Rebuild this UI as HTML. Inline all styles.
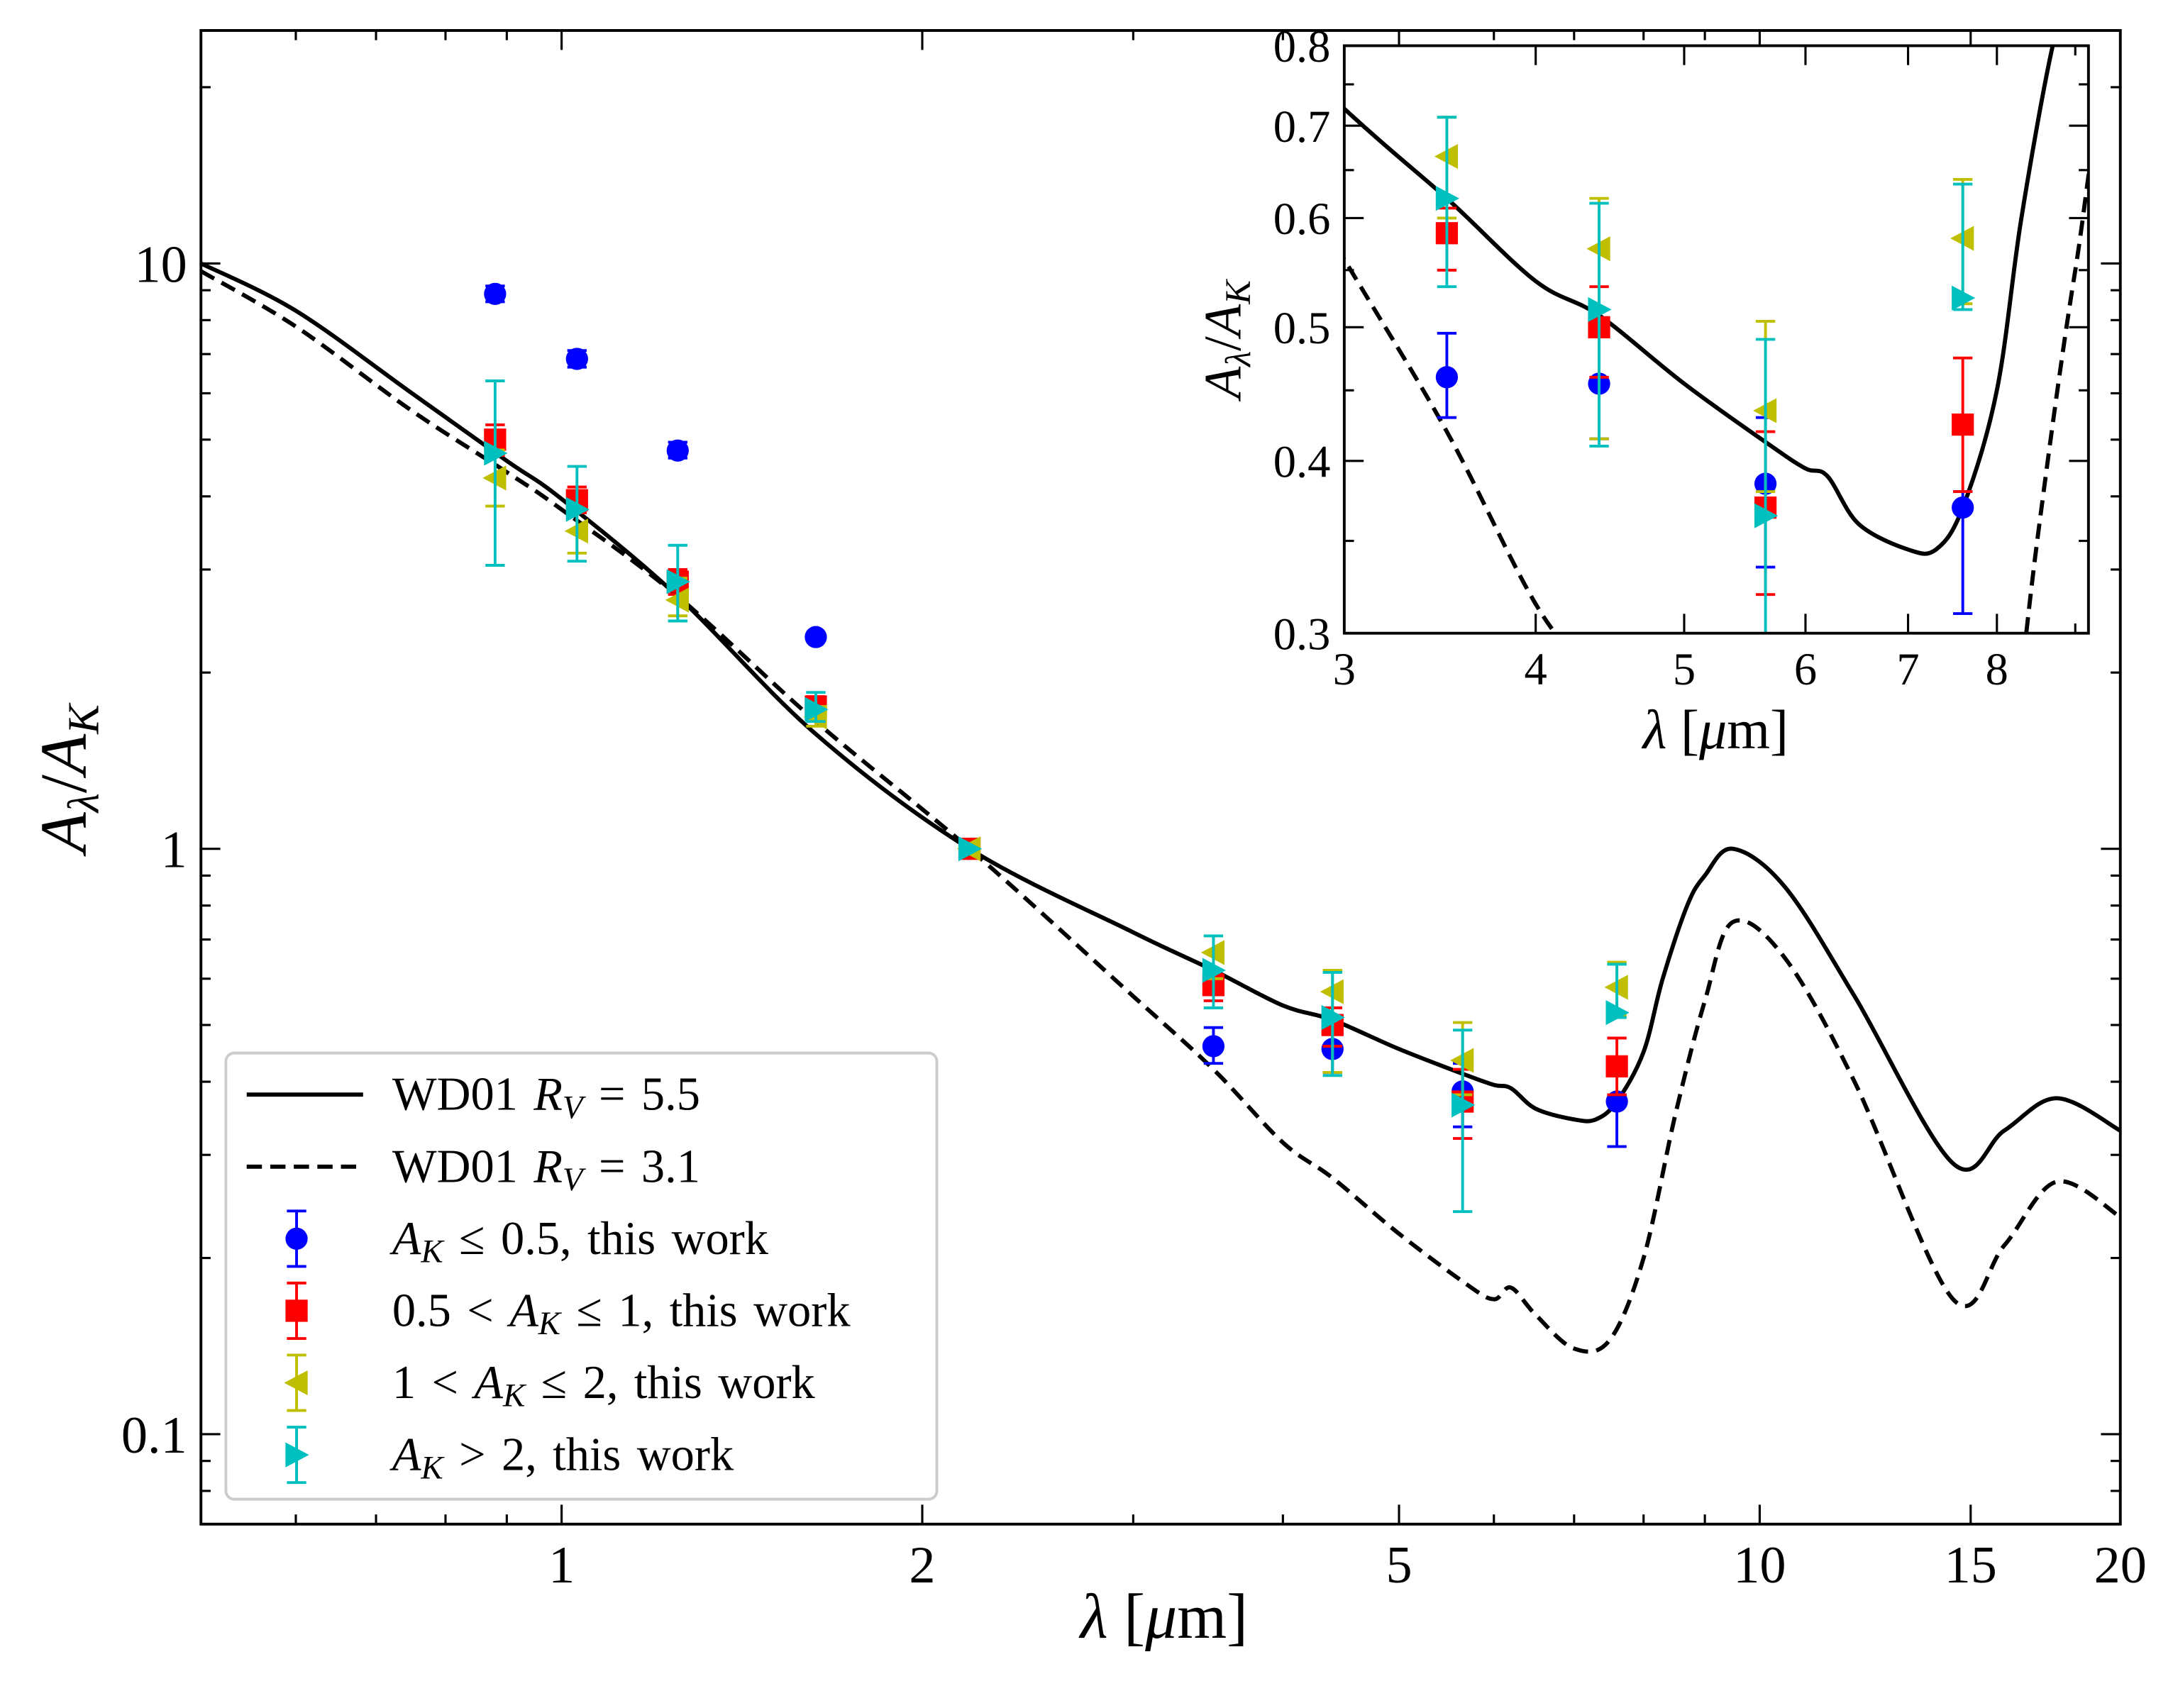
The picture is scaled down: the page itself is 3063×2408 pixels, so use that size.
<!DOCTYPE html>
<html><head><meta charset="utf-8"><style>body{margin:0;background:#fff}svg{display:block}text{font-family:"Liberation Serif","DejaVu Serif",serif}</style></head>
<body>
<svg id="chart" width="3063" height="2408" viewBox="0 0 1568 1232.7" xmlns="http://www.w3.org/2000/svg">
<defs>
<clipPath id="mainClip"><rect x="145" y="22" width="1385" height="1078"/></clipPath>
<clipPath id="insetClip"><rect x="970" y="33" width="537" height="424"/></clipPath>
</defs>
<rect width="1568" height="1233" fill="#fff"/>
<g id="main"></g>
<g id="inset"></g>
<g id="legend"></g>
</svg>
<script>
const NS="http://www.w3.org/2000/svg";
// ---- data ----
const wdLam55=[0.5,0.6,0.75,0.9,1.0,1.25,1.63,2.19,3.0,3.5,4.0,4.4,5.0,5.7,6.0,6.2,6.5,7.0,7.3,7.6,8.0,8.3,8.7,9.0,9.5,10.5,12,14.5,16,17.7,20];
const wdVal55=[10,8.3,6.0,4.6,3.96,2.7,1.57,1.0,0.72,0.62,0.54,0.51,0.455,0.41,0.395,0.39,0.36,0.345,0.345,0.37,0.45,0.6,0.8,0.9,1.0,0.86,0.56,0.29,0.33,0.375,0.33];
const wdLam31=[0.5,0.6,0.75,0.9,1.0,1.25,1.63,2.19,3.0,3.5,4.0,4.4,5.0,5.7,6.0,6.2,6.5,7.0,7.5,8.0,8.5,9.0,9.5,10.5,12,14.5,16,17.7,20];
const wdVal31=[9.7,7.8,5.6,4.4,3.8,2.7,1.65,1.0,0.56,0.42,0.315,0.274,0.22,0.18,0.17,0.178,0.16,0.14,0.145,0.2,0.35,0.55,0.75,0.65,0.4,0.17,0.21,0.27,0.235];
const ptLam=[0.88,1.03,1.25,1.63,2.19,3.5,4.4,5.65,7.6];
const blueVal=[8.87,6.87,4.79,2.30,1.0,0.46,0.455,0.385,0.37];
const blueLo=[8.6,6.65,4.65,2.27,1.0,0.43,0.415,0.335,0.31];
const blueHi=[9.15,7.1,4.95,2.33,1.0,0.495,0.5,0.43,0.38];
const redVal=[5.0,3.94,2.86,1.75,1.0,0.585,0.50,0.37,0.425];
const redLo=[4.7,3.75,2.72,1.68,1.0,0.55,0.46,0.32,0.38];
const redHi=[5.3,4.15,3.0,1.82,1.0,0.61,0.535,0.42,0.475];
const yelVal=[4.3,3.49,2.66,1.68,1.0,0.665,0.57,0.435,0.58];
const yelLo=[3.85,3.2,2.5,1.62,1.0,0.6,0.415,0.38,0.52];
const yelHi=[4.8,3.8,2.9,1.75,1.0,0.71,0.62,0.505,0.64];
const cyaVal=[4.74,3.8,2.86,1.73,1.0,0.62,0.515,0.365,0.525];
const cyaLo=[3.05,3.1,2.45,1.65,1.0,0.535,0.41,0.24,0.515];
const cyaHi=[6.3,4.5,3.3,1.85,1.0,0.71,0.615,0.49,0.635];
const mainXTicks=[1,2,5,10,15,20];
const mainXLabels=["1","2","5","10","15","20"];
const mainYTicks=[0.1,1,10];
const mainYLabels=["0.1","1","10"];
const insetXTicks=[3,4,5,6,7,8];
const insetYTicks=[0.3,0.4,0.5,0.6,0.7,0.8];
const insetYLabels=["0.3","0.4","0.5","0.6","0.7","0.8"];

function el(tag,attrs,parent){const e=document.createElementNS(NS,tag);for(const k in attrs)e.setAttribute(k,attrs[k]);parent.appendChild(e);return e;}
function mkAx(x0,x1,y0,y1,lmin,lmax,vmin,vmax){
  return {x:v=>x0+(Math.log10(v)-Math.log10(lmin))/(Math.log10(lmax)-Math.log10(lmin))*(x1-x0),
          y:v=>y1-(Math.log10(v)-Math.log10(vmin))/(Math.log10(vmax)-Math.log10(vmin))*(y1-y0),x0,x1,y0,y1};
}
const M=mkAx(145,1530,22,1100,0.5,20,0.0702,25);
const I=mkAx(970,1507,33,457,3,9.18,0.3,0.8);

function curve(g,ax,lam,val,dash,clip,name){
  const P=lam.map((l,i)=>[ax.x(l),ax.y(val[i])]);
  let d='M'+P[0][0].toFixed(1)+','+P[0][1].toFixed(1);
  for(let i=0;i<P.length-1;i++){
    const p0=P[Math.max(0,i-1)],p1=P[i],p2=P[i+1],p3=P[Math.min(P.length-1,i+2)];
    const c1=[p1[0]+(p2[0]-p0[0])/6,p1[1]+(p2[1]-p0[1])/6];
    const c2=[p2[0]-(p3[0]-p1[0])/6,p2[1]-(p3[1]-p1[1])/6];
    d+=` C${c1[0].toFixed(1)},${c1[1].toFixed(1)} ${c2[0].toFixed(1)},${c2[1].toFixed(1)} ${p2[0].toFixed(1)},${p2[1].toFixed(1)}`;
  }
  const p=el('path',{d,fill:'none',stroke:'#000','stroke-width':3,'stroke-dasharray':dash?'11,6':'none','clip-path':'url(#'+clip+')','stroke-linejoin':'round'},g);
  
  
}
function marker(g,kind,cx,cy,color,s){
  let m;
  if(kind==='c')m=el('circle',{cx,cy,r:8*s,fill:color},g);
  else if(kind==='s')m=el('rect',{x:cx-8*s,y:cy-8*s,width:16*s,height:16*s,fill:color},g);
  else if(kind==='l')m=el('polygon',{points:`${cx-9*s},${cy} ${cx+8*s},${cy-9*s} ${cx+8*s},${cy+9*s}`,fill:color},g);
  else m=el('polygon',{points:`${cx+9*s},${cy} ${cx-8*s},${cy-9*s} ${cx-8*s},${cy+9*s}`,fill:color},g);
  return m;
}
const series=[['c','#0000ff',blueVal,blueLo,blueHi,'blue'],['s','#ff0000',redVal,redLo,redHi,'red'],['l','#bfbf00',yelVal,yelLo,yelHi,'yellow'],['r','#00bfbf',cyaVal,cyaLo,cyaHi,'cyan']];
function points(g,ax,filter,clip,s){
  series.forEach(([k,c,v,lo,hi,n])=>{
    const sg=el('g',{'clip-path':'url(#'+clip+')'},g);
    
    
    ptLam.forEach((l,i)=>{
      if(!filter(l))return;
      const x=ax.x(l),y=ax.y(v[i]),yl=ax.y(lo[i]),yh=ax.y(hi[i]);
      const e=el('path',{d:`M${x},${yl}V${yh}M${x-7},${yl}H${x+7}M${x-7},${yh}H${x+7}`,stroke:c,'stroke-width':2,fill:'none'},sg);
      
      
      const m=marker(sg,k,x,y,c,s);
      
      
    });
  });
}
function frame(g,ax,xt,xl,yt,yl,xminor,yminor,fs){
  el('rect',{x:ax.x0,y:ax.y0,width:ax.x1-ax.x0,height:ax.y1-ax.y0,fill:'none',stroke:'#000','stroke-width':2},g);
  let d='';
  xt.forEach(v=>{const x=ax.x(v);d+=`M${x},${ax.y1}v-14M${x},${ax.y0}v14`;});
  yt.forEach(v=>{const y=ax.y(v);d+=`M${ax.x0},${y}h14M${ax.x1},${y}h-14`;});
  xminor.forEach(v=>{const x=ax.x(v);d+=`M${x},${ax.y1}v-7M${x},${ax.y0}v7`;});
  yminor.forEach(v=>{const y=ax.y(v);d+=`M${ax.x0},${y}h7M${ax.x1},${y}h-7`;});
  el('path',{d,stroke:'#000','stroke-width':1.6,fill:'none'},g);
  xt.forEach((v,i)=>{const t=el('text',{x:ax.x(v),y:ax.y1+fs+4,'font-size':fs,'text-anchor':'middle'},g);t.textContent=xl[i];
    });
  yt.forEach((v,i)=>{const t=el('text',{x:ax.x0-10,y:ax.y(v)+fs*0.35,'font-size':fs,'text-anchor':'end'},g);t.textContent=yl[i];
    });
}
// main
const gm=document.getElementById('main');
const mxMinor=[0.6,0.7,0.8,0.9,3,4,6,7,8,9];
const myMinor=[0.08,0.09,0.2,0.3,0.4,0.5,0.6,0.7,0.8,0.9,2,3,4,5,6,7,8,9,20];
curve(gm,M,wdLam55,wdVal55,false,'mainClip','wd01-rv55-line');
curve(gm,M,wdLam31,wdVal31,true,'mainClip','wd01-rv31-line');
points(gm,M,()=>true,'mainClip',1);
frame(gm,M,mainXTicks,mainXLabels,mainYTicks,mainYLabels,mxMinor,myMinor,38);
let t=el('text',{x:840,y:1182,'font-size':46,'text-anchor':'middle'},gm);t.innerHTML='<tspan font-style="italic">λ</tspan> [<tspan font-style="italic">μ</tspan>m]';

t=el('text',{x:0,y:0,'font-size':48,'text-anchor':'middle',transform:'translate(62,562) rotate(-90)'},gm);
t.innerHTML='<tspan font-style="italic">A</tspan><tspan font-style="italic" font-size="32" dy="9">λ</tspan><tspan dy="-9">/</tspan><tspan font-style="italic">A</tspan><tspan font-style="italic" font-size="32" dy="9">K</tspan>';

// inset
const gi=document.getElementById('inset');
el('rect',{x:970,y:33,width:537,height:424,fill:'#fff'},gi);
curve(gi,I,wdLam55,wdVal55,false,'insetClip','inset-wd01-rv55-line');
curve(gi,I,wdLam31,wdVal31,true,'insetClip','inset-wd01-rv31-line');
points(gi,I,l=>l>3,'insetClip',1);
frame(gi,I,insetXTicks,insetXTicks.map(String),insetYTicks,insetYLabels,[9],[0.35,0.45,0.55,0.65,0.75],33);
t=el('text',{x:1238,y:540,'font-size':40,'text-anchor':'middle'},gi);t.innerHTML='<tspan font-style="italic">λ</tspan> [<tspan font-style="italic">μ</tspan>m]';

t=el('text',{x:0,y:0,'font-size':38,'text-anchor':'middle',transform:'translate(895,245) rotate(-90)'},gi);
t.innerHTML='<tspan font-style="italic">A</tspan><tspan font-style="italic" font-size="26" dy="7">λ</tspan><tspan dy="-7">/</tspan><tspan font-style="italic">A</tspan><tspan font-style="italic" font-size="26" dy="7">K</tspan>';

// legend
const gl=document.getElementById('legend');
el('rect',{x:163,y:760,width:513,height:322,rx:6,fill:'#fff',stroke:'#ccc','stroke-width':2},gl);
const labels=['WD01 <tspan font-style="italic">R</tspan><tspan font-style="italic" font-size="24" dy="6">V</tspan><tspan dy="-6"> = 5.5</tspan>',
'WD01 <tspan font-style="italic">R</tspan><tspan font-style="italic" font-size="24" dy="6">V</tspan><tspan dy="-6"> = 3.1</tspan>',
'<tspan font-style="italic">A</tspan><tspan font-style="italic" font-size="24" dy="6">K</tspan><tspan dy="-6"> ≤ 0.5, this work</tspan>',
'0.5 &lt; <tspan font-style="italic">A</tspan><tspan font-style="italic" font-size="24" dy="6">K</tspan><tspan dy="-6"> ≤ 1, this work</tspan>',
'1 &lt; <tspan font-style="italic">A</tspan><tspan font-style="italic" font-size="24" dy="6">K</tspan><tspan dy="-6"> ≤ 2, this work</tspan>',
'<tspan font-style="italic">A</tspan><tspan font-style="italic" font-size="24" dy="6">K</tspan><tspan dy="-6"> &gt; 2, this work</tspan>'];
labels.forEach((lb,i)=>{
  const y=790+i*52;
  const row=el('g',{},gl);
  
  
  if(i<2)el('line',{x1:178,x2:262,y1:y,y2:y,stroke:'#000','stroke-width':3,'stroke-dasharray':i?'11,6':'none'},row);
  else{const [k,c]=series[i-2];el('path',{d:`M214,${y-20}V${y+20}M207,${y-20}H221M207,${y+20}H221`,stroke:c,'stroke-width':2},row);marker(row,k,214,y,c,1);}
  const tx=el('text',{x:283,y:y+11,'font-size':34,'word-spacing':'3'},row);tx.innerHTML=lb;
});
</script>
</body></html>
